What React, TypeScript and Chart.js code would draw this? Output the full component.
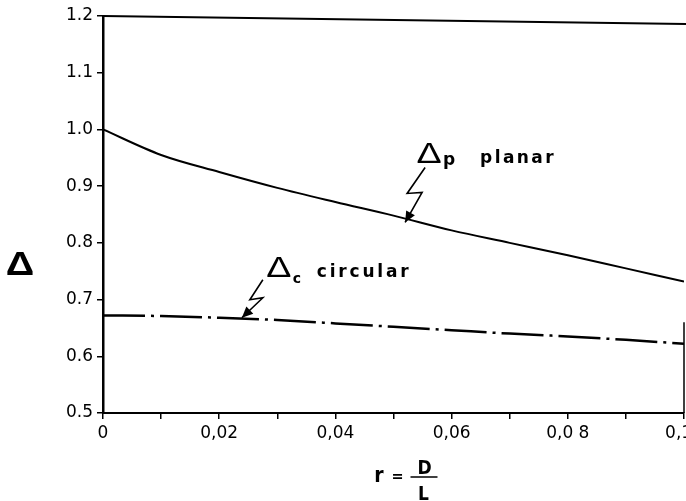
import React, { useEffect, useRef } from "react";
import { Chart, registerables } from "chart.js";

Chart.register(...registerables);

// ---- data ----
const rValues = [0, 0.01, 0.02, 0.03, 0.04, 0.05, 0.06, 0.07, 0.08, 0.09, 0.1];
const planarValues = [1.0, 0.955, 0.925, 0.897, 0.872, 0.848, 0.822, 0.8, 0.778, 0.755, 0.732];
const circularValues = [0.672, 0.671, 0.668, 0.664, 0.658, 0.652, 0.646, 0.64, 0.635, 0.629, 0.622];
const xTickLabels = ["0", "0,02", "0,04", "0,06", "0,0 8", "0,1  "];
const yTickLabels = ["0.5", "0.6", "0.7", "0.8", "0.9", "1.0", "1.1", "1.2"];
const seriesNames = ["planar", "circular"];
const seriesSubscripts = ["p", "c"];
// arrow tip anchors in data space [r, Δ]
const planarTip = [0.052, 0.836];
const circularTip = [0.0239, 0.668];
const yAxisSymbolValue = 0.743;

const FONT = '"DejaVu Sans", sans-serif';
const DELTA_FONT = '"Liberation Sans", Arial, sans-serif';

function drawArrow(ctx: CanvasRenderingContext2D, pts: number[][]) {
  ctx.save();
  ctx.strokeStyle = "#000";
  ctx.fillStyle = "#000";
  ctx.lineWidth = 1.6;
  ctx.lineJoin = "miter";
  ctx.beginPath();
  ctx.moveTo(pts[0][0], pts[0][1]);
  for (let i = 1; i < pts.length; i++) ctx.lineTo(pts[i][0], pts[i][1]);
  ctx.stroke();
  const [x1, y1] = pts[pts.length - 2];
  const [x2, y2] = pts[pts.length - 1];
  const ang = Math.atan2(y2 - y1, x2 - x1);
  const L = 11;
  const W = 5;
  ctx.beginPath();
  ctx.moveTo(x2, y2);
  ctx.lineTo(x2 - L * Math.cos(ang) + W * Math.sin(ang), y2 - L * Math.sin(ang) - W * Math.cos(ang));
  ctx.lineTo(x2 - L * Math.cos(ang) - W * Math.sin(ang), y2 - L * Math.sin(ang) + W * Math.cos(ang));
  ctx.closePath();
  ctx.fill();
  ctx.restore();
}

function drawDelta(ctx: CanvasRenderingContext2D, cx: number, baseY: number, size: number, sx: number, weight: string) {
  ctx.save();
  ctx.translate(cx, baseY);
  ctx.scale(sx, 1);
  ctx.font = `${weight} ${size}px ${DELTA_FONT}`;
  ctx.textAlign = "center";
  ctx.textBaseline = "alphabetic";
  ctx.fillStyle = "#000";
  ctx.fillText("Δ", 0, 0);
  ctx.restore();
}

const annotationPlugin = {
  id: "annotations",
  afterDraw(chart: any) {
    const ctx: CanvasRenderingContext2D = chart.ctx;
    const xs = chart.scales.x;
    const ys = chart.scales.y;
    const area = chart.chartArea;

    ctx.save();
    // top frame line and right frame piece
    ctx.strokeStyle = "#000";
    ctx.lineWidth = 2;
    ctx.beginPath();
    ctx.moveTo(area.left, area.top);
    ctx.lineTo(area.right + 2, area.top + 8);
    ctx.stroke();
    ctx.lineWidth = 1.5;
    ctx.beginPath();
    ctx.moveTo(area.right, ys.getPixelForValue(0.66));
    ctx.lineTo(area.right, area.bottom);
    ctx.stroke();

    // y-axis symbol
    drawDelta(ctx, area.left - 83, ys.getPixelForValue(yAxisSymbolValue), 33, 1.2, "bold");

    // planar label
    const pTx = xs.getPixelForValue(planarTip[0]);
    const pTy = ys.getPixelForValue(planarTip[1]);
    drawArrow(ctx, [
      [pTx + 20, pTy - 55],
      [pTx + 2, pTy - 29],
      [pTx + 17, pTy - 30],
      [pTx, pTy],
    ]);
    drawDelta(ctx, pTx + 24, pTy - 59, 29, 1.3, "normal");
    ctx.fillStyle = "#000";
    ctx.textAlign = "left";
    ctx.textBaseline = "alphabetic";
    ctx.font = `bold 17px ${FONT}`;
    ctx.fillText(seriesSubscripts[0], pTx + 38, pTy - 57);
    (ctx as any).letterSpacing = "2.4px";
    ctx.font = `bold 17px ${FONT}`;
    ctx.fillText(seriesNames[0], pTx + 75, pTy - 59);
    (ctx as any).letterSpacing = "0px";

    // circular label
    const cTx = xs.getPixelForValue(circularTip[0]);
    const cTy = ys.getPixelForValue(circularTip[1]);
    drawArrow(ctx, [
      [cTx + 21, cTy - 38],
      [cTx + 8, cTy - 18],
      [cTx + 21, cTy - 20],
      [cTx, cTy],
    ]);
    drawDelta(ctx, cTx + 37, cTy - 41, 29, 1.3, "normal");
    ctx.font = `bold 14px ${FONT}`;
    ctx.fillText(seriesSubscripts[1], cTx + 51, cTy - 35);
    (ctx as any).letterSpacing = "2.8px";
    ctx.font = `bold 17px ${FONT}`;
    ctx.fillText(seriesNames[1], cTx + 75, cTy - 41);
    (ctx as any).letterSpacing = "0px";

    // x-axis title r = D / L
    const cx = (area.left + area.right) / 2;
    const b = area.bottom;
    ctx.font = `bold 21px "DejaVu Sans Condensed", ${FONT}`;
    ctx.textAlign = "right";
    ctx.fillText("r", cx - 10, b + 69);
    ctx.font = `bold 16px "DejaVu Sans Condensed", ${FONT}`;
    ctx.fillText("=", cx + 10, b + 68);
    ctx.textAlign = "center";
    ctx.font = `bold 19px "DejaVu Sans Condensed", ${FONT}`;
    ctx.fillText("D", cx + 31, b + 61);
    ctx.fillText("L", cx + 30, b + 87);
    ctx.lineWidth = 1.5;
    ctx.beginPath();
    ctx.moveTo(cx + 17, b + 64);
    ctx.lineTo(cx + 44, b + 64);
    ctx.stroke();
    ctx.restore();
  },
};

export default function App() {
  const canvasRef = useRef<HTMLCanvasElement | null>(null);

  useEffect(() => {
    document.body.style.margin = "0";
    const canvas = canvasRef.current;
    if (!canvas) return;
    const chart = new Chart(canvas, {
      type: "line",
      data: {
        datasets: [
          {
            label: seriesNames[0],
            data: rValues.map((r, i) => ({ x: r, y: planarValues[i] })),
            borderColor: "#000",
            borderWidth: 2,
            pointRadius: 0,
            tension: 0.4,
            cubicInterpolationMode: "monotone",
            fill: false,
          },
          {
            label: seriesNames[1],
            data: rValues.map((r, i) => ({ x: r, y: circularValues[i] })),
            borderColor: "#000",
            borderWidth: 2.5,
            borderDash: [42, 6, 3, 6],
            pointRadius: 0,
            tension: 0.4,
            cubicInterpolationMode: "monotone",
            fill: false,
          },
        ],
      },
      options: {
        responsive: false,
        animation: false,
        devicePixelRatio: 1,
        layout: { padding: { top: 16, right: 2, left: 0, bottom: 0 } },
        plugins: {
          legend: { display: false },
          tooltip: { enabled: false },
          title: { display: false },
        },
        scales: {
          x: {
            type: "linear",
            min: 0,
            max: 0.1,
            grid: {
              display: true,
              drawOnChartArea: false,
              drawTicks: true,
              tickLength: 6,
              color: "#000",
              lineWidth: 1.5,
            },
            border: { display: true, color: "#000", width: 2 },
            ticks: {
              stepSize: 0.01,
              autoSkip: false,
              maxRotation: 0,
              padding: 4,
              color: "#000",
              font: { family: "'DejaVu Sans'", size: 17 },
              callback: (v: any) => {
                const idx = Math.round(Number(v) / 0.01);
                return idx % 2 === 0 ? xTickLabels[idx / 2] : "";
              },
            },
            afterFit: (s: any) => {
              s.height = 88;
              s.paddingLeft = 0;
              s.paddingRight = 0;
            },
          },
          y: {
            type: "linear",
            min: 0.5,
            max: 1.2,
            grid: {
              display: true,
              drawOnChartArea: false,
              drawTicks: true,
              tickLength: 6,
              color: "#000",
              lineWidth: 1.5,
            },
            border: { display: true, color: "#000", width: 2.5 },
            ticks: {
              stepSize: 0.1,
              padding: 4,
              color: "#000",
              font: { family: "'DejaVu Sans'", size: 17 },
              callback: (v: any) => {
                const idx = Math.round((Number(v) - 0.5) / 0.1);
                return yTickLabels[idx] ?? "";
              },
            },
            afterFit: (s: any) => {
              s.width = 103;
              s.paddingTop = 0;
              s.paddingBottom = 0;
            },
          },
        },
      } as any,
      plugins: [annotationPlugin],
    });
    return () => chart.destroy();
  }, []);

  return (
    <canvas
      ref={canvasRef}
      width={686}
      height={501}
      style={{ position: "absolute", left: 0, top: 0, width: 686, height: 501 }}
    />
  );
}
